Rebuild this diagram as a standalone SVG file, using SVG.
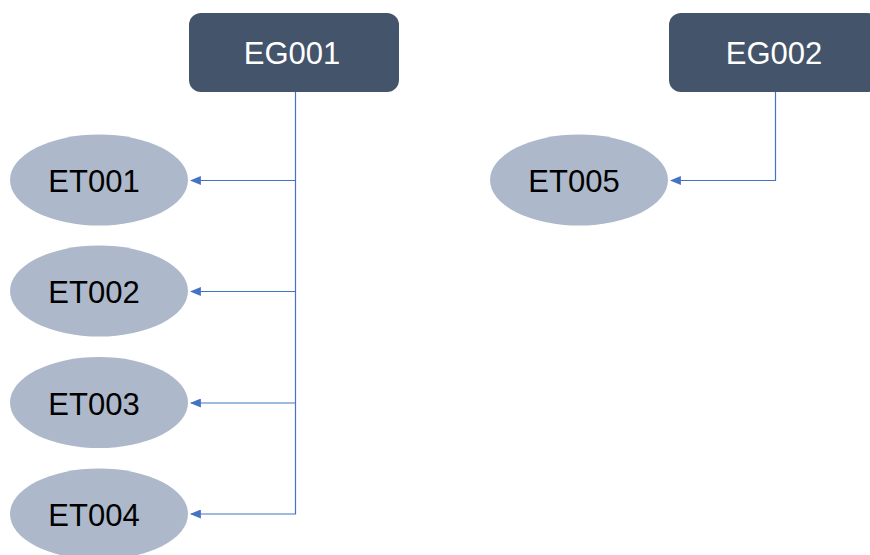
<svg xmlns="http://www.w3.org/2000/svg" width="870" height="555" viewBox="0 0 870 555">
  <style>
    .grp rect { fill: #44546A; }
    .grp text { fill: #FFFFFF; }
    .ent ellipse { fill: #ADB9CA; }
    .ent text { fill: #000000; }
    text { font-family: "Liberation Sans", Arial, sans-serif; font-size: 31px; text-anchor: middle; }
    .conn path { fill: none; stroke: #4472C4; stroke-width: 1.2; marker-end: url(#arrow); }
  </style>
  <defs>
    <marker id="arrow" viewBox="0 0 10 10" refX="9" refY="5" markerWidth="11" markerHeight="9" markerUnits="userSpaceOnUse" orient="auto" preserveAspectRatio="none">
      <path d="M0,0 L10,5 L0,10 z" fill="#4472C4"/>
    </marker>
  </defs>
  <rect width="870" height="555" fill="#FFFFFF"/>

  <!-- connectors -->
  <g class="conn" id="connectors">
    <path d="M295.5,92 V180.5 H191"/>
    <path d="M295.5,180.5 V291.5 H191"/>
    <path d="M295.5,291.5 V403 H191"/>
    <path d="M295.5,403 V514 H191"/>
    <path d="M775.5,92 V180.5 H671"/>
  </g>

  <!-- groups -->
  <g class="grp" id="EG001">
    <rect x="189" y="13" width="210" height="79" rx="12"/>
    <text x="292" y="64">EG001</text>
  </g>
  <g class="grp" id="EG002">
    <rect x="669" y="13" width="210" height="79" rx="12"/>
    <text x="774" y="64">EG002</text>
  </g>

  <!-- entities -->
  <g class="ent" id="ET001">
    <ellipse cx="99" cy="180" rx="89" ry="45.5"/>
    <text x="94" y="192">ET001</text>
  </g>
  <g class="ent" id="ET002">
    <ellipse cx="99" cy="291" rx="89" ry="45.5"/>
    <text x="94" y="303">ET002</text>
  </g>
  <g class="ent" id="ET003">
    <ellipse cx="99" cy="402.5" rx="89" ry="45.5"/>
    <text x="94" y="414.5">ET003</text>
  </g>
  <g class="ent" id="ET004">
    <ellipse cx="99" cy="514" rx="89" ry="45.5"/>
    <text x="94" y="526">ET004</text>
  </g>
  <g class="ent" id="ET005">
    <ellipse cx="579" cy="180" rx="89" ry="45.5"/>
    <text x="574" y="192">ET005</text>
  </g>
</svg>
